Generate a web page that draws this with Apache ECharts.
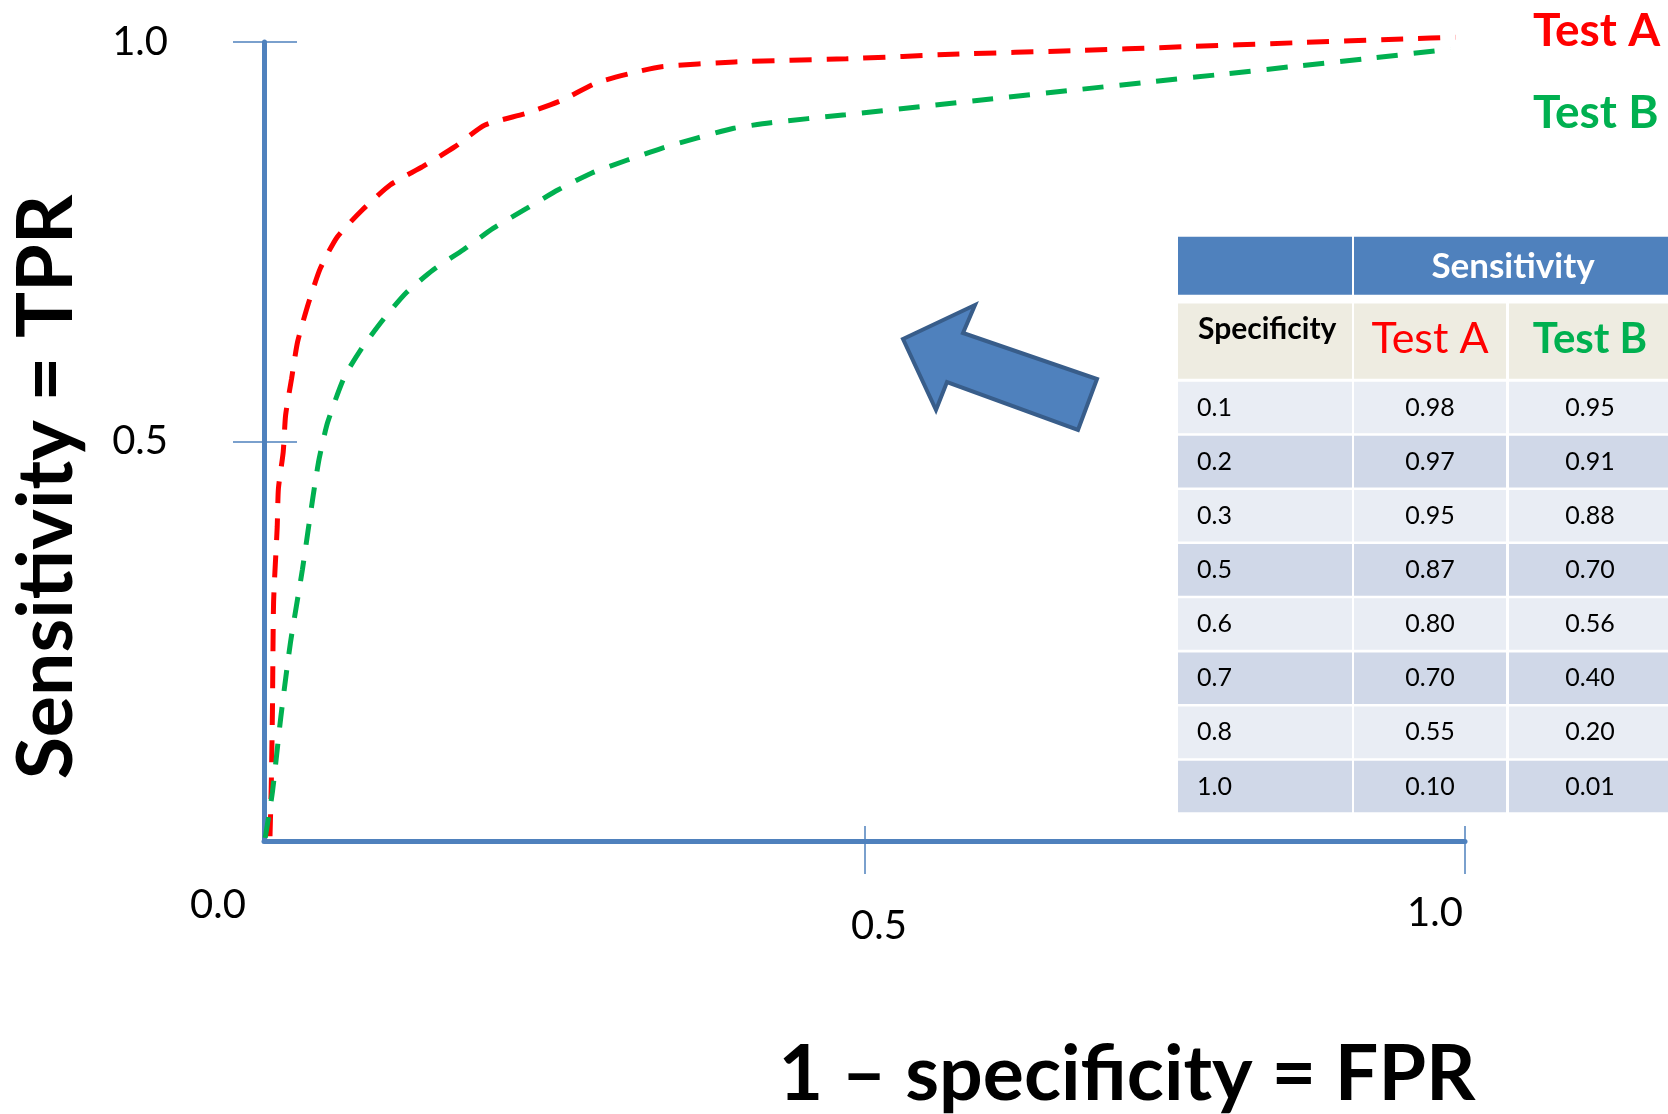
<!DOCTYPE html>
<html>
<head>
<meta charset="utf-8">
<script src="https://cdn.jsdelivr.net/npm/echarts@6/dist/echarts.min.js"></script>
<style>
html,body{margin:0;padding:0;background:#ffffff;}
#c{width:1668px;height:1114px;}
</style>
</head>
<body>
<div id="c"></div>
<script>
// ---------------- data ----------------
const seriesNames = ['Test A', 'Test B'];
const xAxisTitle = '1 \u2013 specificity = FPR';
const yAxisTitle = 'Sensitivity = TPR';

const xTickValues = [0, 0.5, 1.0];
const xTickLabels = ['0.0', '0.5', '1.0'];
const yTickValues = [0.5, 1.0];
const yTickLabels = ['0.5', '1.0'];

// Test A curve (x = 1 - specificity, y = sensitivity)
const testA_FPR = [0.005, 0.006, 0.007, 0.008, 0.011, 0.012, 0.016, 0.018, 0.023, 0.028,
                   0.037, 0.047, 0.061, 0.082, 0.105, 0.132, 0.159, 0.184, 0.219, 0.248,
                   0.277, 0.306, 0.331, 0.392, 0.485, 0.579, 0.672, 0.765, 0.858, 0.952, 0.992];
const testA_TPR = [0.006, 0.066, 0.160, 0.300, 0.393, 0.441, 0.487, 0.533, 0.579, 0.625,
                   0.673, 0.717, 0.756, 0.790, 0.821, 0.844, 0.869, 0.896, 0.911, 0.927,
                   0.949, 0.961, 0.969, 0.975, 0.979, 0.985, 0.989, 0.994, 0.999, 1.004, 1.006];

// Test B curve
const testB_FPR = [0.001, 0.007, 0.014, 0.022, 0.032, 0.041, 0.046, 0.053, 0.067, 0.082,
                   0.101, 0.119, 0.141, 0.166, 0.191, 0.219, 0.245, 0.273, 0.302, 0.331,
                   0.361, 0.391, 0.422, 0.484, 0.546, 0.607, 0.669, 0.731, 0.794, 0.855, 0.917, 0.988];
const testB_TPR = [0.004, 0.061, 0.155, 0.248, 0.340, 0.433, 0.479, 0.524, 0.581, 0.618,
                   0.656, 0.687, 0.715, 0.740, 0.767, 0.792, 0.815, 0.836, 0.852, 0.867,
                   0.880, 0.892, 0.899, 0.909, 0.919, 0.929, 0.939, 0.949, 0.959, 0.969, 0.979, 0.991];

// Inset table
const tableGroupHeader = 'Sensitivity';
const tableRowHeader = 'Specificity';
const tableSpecificity = ['0.1', '0.2', '0.3', '0.5', '0.6', '0.7', '0.8', '1.0'];
const tableSensA = ['0.98', '0.97', '0.95', '0.87', '0.80', '0.70', '0.55', '0.10'];
const tableSensB = ['0.95', '0.91', '0.88', '0.70', '0.56', '0.40', '0.20', '0.01'];

// ---------------- styles ----------------
const FONT = 'Lato, "Open Sans", "DejaVu Sans", sans-serif';
const AXIS_BLUE = '#4F81BD';
const RED = '#FF0000';
const GREEN = '#00B050';
const TICK_FONT = 40;

const zip = (xs, ys) => xs.map((x, i) => [x, ys[i]]);

// individual nudges of the x tick labels (as placed in the original slide)
const xLabelRich = {
  t0: {fontFamily: FONT, fontSize: TICK_FONT, color: '#000', padding: [14, 92, 0, 0]},
  t1: {fontFamily: FONT, fontSize: TICK_FONT, color: '#000', padding: [35, 0, 0, 29]},
  t2: {fontFamily: FONT, fontSize: TICK_FONT, color: '#000', padding: [22, 60, 0, 0]}
};

// ---------------- table graphic (built from the table arrays) ----------------
function buildTable() {
  const els = [];
  const colX = [1178, 1354, 1509];
  const colW = [174, 152, 170];
  const h1Y = 236.8, h1H = 57.9;
  const h2Y = 303.4, h2H = 75.3;
  const rowY0 = 381.7, rowPitch = 54.14, rowH = 51.6;
  // header row 1
  els.push({type: 'rect', shape: {x: colX[0], y: h1Y, width: colW[0], height: h1H}, style: {fill: AXIS_BLUE}});
  els.push({type: 'rect', shape: {x: colX[1], y: h1Y, width: 330, height: h1H}, style: {fill: AXIS_BLUE}});
  els.push({type: 'text', x: 1513, y: 267, style: {text: tableGroupHeader, fill: '#FFFFFF',
    font: 'bold 35px ' + FONT, textAlign: 'center', textVerticalAlign: 'middle'}});
  // header row 2
  for (let c = 0; c < 3; c++) {
    els.push({type: 'rect', shape: {x: colX[c], y: h2Y, width: colW[c], height: h2H}, style: {fill: '#EEECE1'}});
  }
  els.push({type: 'text', x: 1198, y: 329, style: {text: tableRowHeader, fill: '#000',
    font: 'bold 30px ' + FONT, textAlign: 'left', textVerticalAlign: 'middle'}});
  els.push({type: 'text', x: 1430, y: 339, style: {text: seriesNames[0], fill: RED,
    font: '43px ' + FONT, textAlign: 'center', textVerticalAlign: 'middle'}});
  els.push({type: 'text', x: 1590, y: 339, style: {text: seriesNames[1], fill: GREEN,
    font: 'bold 42px ' + FONT, textAlign: 'center', textVerticalAlign: 'middle'}});
  // data rows
  tableSpecificity.forEach((spec, i) => {
    const y = rowY0 + rowPitch * i;
    const fill = i % 2 === 0 ? '#E9EDF4' : '#D0D8E8';
    for (let c = 0; c < 3; c++) {
      els.push({type: 'rect', shape: {x: colX[c], y: y, width: colW[c], height: rowH}, style: {fill: fill}});
    }
    const cy = y + rowH / 2;
    const f = '25px ' + FONT;
    els.push({type: 'text', x: 1197, y: cy, style: {text: spec, fill: '#000', font: f, textAlign: 'left', textVerticalAlign: 'middle'}});
    els.push({type: 'text', x: 1430, y: cy, style: {text: tableSensA[i], fill: '#000', font: f, textAlign: 'center', textVerticalAlign: 'middle'}});
    els.push({type: 'text', x: 1590, y: cy, style: {text: tableSensB[i], fill: '#000', font: f, textAlign: 'center', textVerticalAlign: 'middle'}});
  });
  return els;
}

// block arrow shape pointing to the curves
const arrowShape = [[903, 339], [975, 305], [963, 333], [1097, 379], [1078, 430], [947, 382], [936, 410]];

const chart = echarts.init(document.getElementById('c'), null, {renderer: 'canvas', width: 1668, height: 1114});

const option = {
  backgroundColor: '#FFFFFF',
  animation: false,
  grid: {left: 264, top: 42, right: 203, bottom: 273, containLabel: false, outerBoundsMode: 'none'},
  legend: {
    orient: 'vertical', left: 1522, top: 3, itemGap: 36, itemWidth: 0, itemHeight: 0,
    selectedMode: false,
    itemStyle: {opacity: 0}, lineStyle: {opacity: 0},
    textStyle: {fontFamily: FONT, fontWeight: 'bold', fontSize: 46, padding: 0},
    data: [
      {name: seriesNames[0], textStyle: {color: RED}},
      {name: seriesNames[1], textStyle: {color: GREEN}}
    ]
  },
  xAxis: [
    {
      type: 'value', min: 0, max: 1, position: 'bottom',
      name: xAxisTitle, nameLocation: 'middle', nameGap: 196, nameMoveOverlap: false,
      nameTextStyle: {fontFamily: FONT, fontWeight: 'bold', fontSize: 77, color: '#000', padding: [0, 0, 0, 525]},
      axisLine: {show: true, onZero: false, lineStyle: {color: AXIS_BLUE, width: 5}},
      axisTick: {show: true, inside: false, length: 33, customValues: xTickValues.slice(1), lineStyle: {color: AXIS_BLUE, width: 1.5}},
      axisLabel: {
        show: true, margin: 30, customValues: xTickValues,
        formatter: function (v) {
          const i = xTickValues.indexOf(v);
          return '{t' + i + '|' + xTickLabels[i] + '}';
        },
        rich: xLabelRich
      },
      splitLine: {show: false}
    },
    {
      type: 'value', min: 0, max: 1, position: 'bottom',
      axisLine: {show: false},
      axisTick: {show: true, inside: true, length: 15, customValues: xTickValues.slice(1), lineStyle: {color: AXIS_BLUE, width: 1.5}},
      axisLabel: {show: false},
      splitLine: {show: false}
    }
  ],
  yAxis: [
    {
      type: 'value', min: 0, max: 1, position: 'left',
      name: yAxisTitle, nameLocation: 'middle', nameRotate: 90, nameGap: 178, nameMoveOverlap: false,
      nameTextStyle: {fontFamily: FONT, fontWeight: 'bold', fontSize: 77, color: '#000', padding: [0, 91, 0, 0]},
      axisLine: {show: true, onZero: false, lineStyle: {color: AXIS_BLUE, width: 5}},
      axisTick: {show: true, inside: false, length: 31, customValues: yTickValues, lineStyle: {color: AXIS_BLUE, width: 1.5}},
      axisLabel: {
        show: true, margin: 96, customValues: yTickValues,
        fontFamily: FONT, fontSize: TICK_FONT, color: '#000',
        formatter: function (v) { return yTickLabels[yTickValues.indexOf(v)]; }
      },
      splitLine: {show: false}
    },
    {
      type: 'value', min: 0, max: 1, position: 'left',
      axisLine: {show: false},
      axisTick: {show: true, inside: true, length: 33, customValues: yTickValues, lineStyle: {color: AXIS_BLUE, width: 1.5}},
      axisLabel: {show: false},
      splitLine: {show: false}
    }
  ],
  series: [
    {
      name: seriesNames[0], type: 'line', xAxisIndex: 0, yAxisIndex: 0,
      data: zip(testA_FPR, testA_TPR), showSymbol: false, smooth: 0.2, clip: false,
      lineStyle: {color: RED, width: 5, type: [22, 15]}, itemStyle: {color: RED}, z: 3
    },
    {
      name: seriesNames[1], type: 'line', xAxisIndex: 0, yAxisIndex: 0,
      data: zip(testB_FPR, testB_TPR), showSymbol: false, smooth: 0.2, clip: false,
      lineStyle: {color: GREEN, width: 5, type: [21, 16]}, itemStyle: {color: GREEN}, z: 3
    }
  ],
  graphic: [
    {type: 'group', children: buildTable()},
    {type: 'polygon', shape: {points: arrowShape}, style: {fill: AXIS_BLUE, stroke: '#385D8A', lineWidth: 4, lineJoin: 'miter'}}
  ]
};

chart.setOption(option);
</script>
</body>
</html>
